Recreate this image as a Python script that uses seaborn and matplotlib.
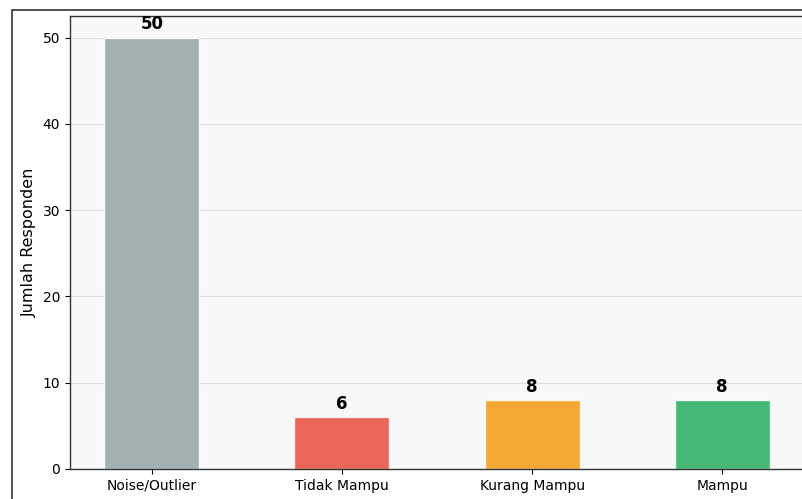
import matplotlib
matplotlib.use('Agg')
import matplotlib.pyplot as plt
import seaborn as sns
import pandas as pd
from matplotlib.patches import Rectangle

# Data
categories = ['Noise/Outlier', 'Tidak Mampu', 'Kurang Mampu', 'Mampu']
counts = [50, 6, 8, 8]
colors = ['#95a5a6', '#e74c3c', '#f39c12', '#27ae60']

df = pd.DataFrame({'Kategori': categories, 'Jumlah': counts})

sns.set_style('ticks')
plt.rcParams['font.family'] = ['DejaVu Sans']
plt.rcParams['text.color'] = 'black'
plt.rcParams['axes.labelcolor'] = 'black'
plt.rcParams['xtick.color'] = 'black'
plt.rcParams['ytick.color'] = 'black'

fig = plt.figure(figsize=(8.02, 4.99), dpi=100)
W, H = 802, 499
ax = fig.add_axes([70 / W, (H - 469) / H, (804 - 70) / W, (469 - 16) / H])
ax.set_facecolor('#f8f8f8')

sns.barplot(data=df, x='Kategori', y='Jumlah', hue='Kategori', palette=colors,
            legend=False, width=0.5, alpha=0.85, edgecolor='white',
            linewidth=1, saturation=1, ax=ax)

for i, v in enumerate(counts):
    ax.text(i, v + 0.5, str(v), ha='center', va='bottom',
            fontsize=12, fontweight='bold', color='black')

ax.set_ylim(0, 52.5)
ax.set_xlim(-0.43, 3.43)
ax.set_yticks([0, 10, 20, 30, 40, 50])
ax.yaxis.grid(True, color='#e0e0e0', linewidth=0.8)
ax.set_axisbelow(True)
ax.set_xlabel('')
ax.set_ylabel('Jumlah Responden', fontsize=11.5)
ax.tick_params(labelsize=10)
for s in ax.spines.values():
    s.set_color('#333333')
    s.set_linewidth(1)

# outer frame of the larger figure (cropped)
fig.patches.append(Rectangle((12 / W, -0.2), 1.5, (H - 10) / H + 0.2,
                             transform=fig.transFigure, fill=False,
                             edgecolor='#333333', linewidth=1.2))

fig.savefig('out.png', dpi=100)
